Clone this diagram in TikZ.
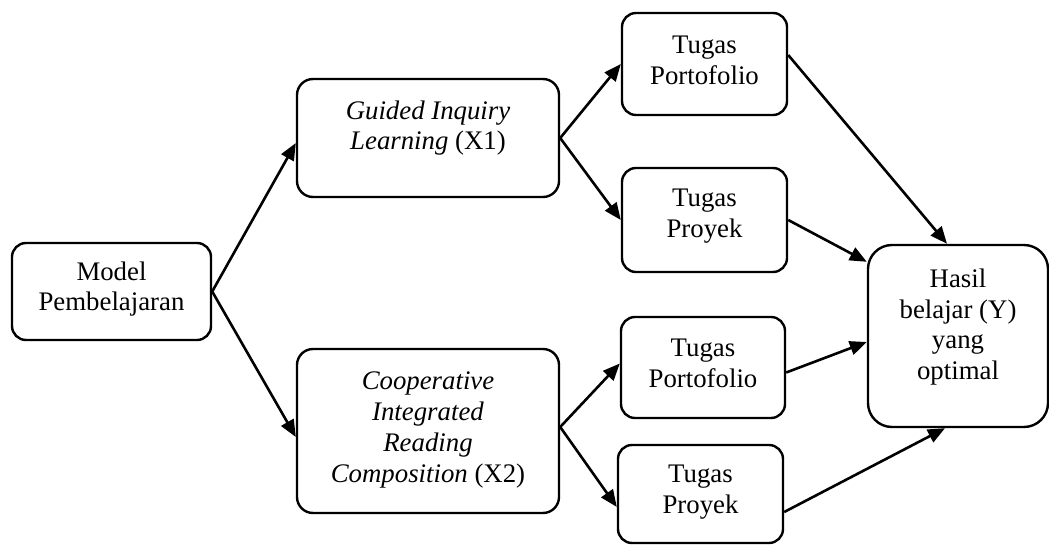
\documentclass[tikz,border=0pt]{standalone}
\usepackage{fontspec}
\setmainfont{Liberation Serif}
\usetikzlibrary{arrows.meta,calc}
\begin{document}
\begin{tikzpicture}[x=0.5pt,y=-0.5pt,
  box/.style={draw,line width=1.2pt,rounded corners=7pt,inner sep=0pt},
  txt/.style={align=center,inner sep=0pt,font=\fontsize{13.4}{15.4}\selectfont},
  arr/.style={line width=1.3pt,-{Triangle[length=8.5pt,width=7pt]}}]
\useasboundingbox (0,0) rectangle (1049,545);
% boxes
\node[box,minimum width=99.5pt,minimum height=48.5pt] (model) at (111.5,291.5) {};
\node[box,rounded corners=8pt,minimum width=131pt,minimum height=59pt] (gil) at (428,138) {};
\node[box,rounded corners=8pt,minimum width=131pt,minimum height=82pt] (circ) at (428,431) {};
\node[box,minimum width=82.5pt,minimum height=51pt] (port1) at (704.5,64) {};
\node[box,minimum width=82.5pt,minimum height=52pt] (proy1) at (704.5,220) {};
\node[box,minimum width=82pt,minimum height=50.5pt] (port2) at (703,367.5) {};
\node[box,minimum width=82.5pt,minimum height=49pt] (proy2) at (700.5,494) {};
\node[box,rounded corners=12pt,minimum width=90pt,minimum height=91pt] (hasil) at (958,336) {};
% texts
\node[txt] (tmodel) at (111.5,289) {Model\\Pembelajaran};
\node[txt] (tgil) at (428,128) {\textit{Guided Inquiry}\\\textit{Learning} (X1)};
\node[txt] (tcirc) at (428,430) {\textit{Cooperative}\\\textit{Integrated}\\\textit{Reading}\\\textit{Composition} (X2)};
\node[txt] (tport1) at (704.5,60) {Tugas\\Portofolio};
\node[txt] (tproy1) at (704.5,216) {Tugas\\Proyek};
\node[txt] (tport2) at (703,363) {Tugas\\Portofolio};
\node[txt] (tproy2) at (700.5,492) {Tugas\\Proyek};
\node[txt] (thasil) at (958,327) {Hasil\\belajar (Y)\\yang\\optimal};
% arrows
\draw[arr] (model.east) -- ($(gil.west)+(0,5)$);
\draw[arr] (model.east) -- ($(circ.west)+(0,6)$);
\draw[arr] (gil.east) -- (port1.west);
\draw[arr] (gil.east) -- (proy1.west);
\draw[arr] ($(circ.east)+(0,-4)$) -- ($(port2.west)+(0,-4)$);
\draw[arr] ($(circ.east)+(0,-4)$) -- ($(proy2.west)+(0,13)$);
\draw[arr] ($(port1.east)+(0,-9)$) -- ($(hasil.north)+(-11,0)$);
\draw[arr] (proy1.east) -- ($(hasil.north west)+(0,18)$);
\draw[arr] ($(port2.east)+(0,5)$) -- ($(hasil.west)+(0,6)$);
\draw[arr] ($(proy2.east)+(0,18)$) -- ($(hasil.south)+(-13,0)$);
\end{tikzpicture}
\end{document}
